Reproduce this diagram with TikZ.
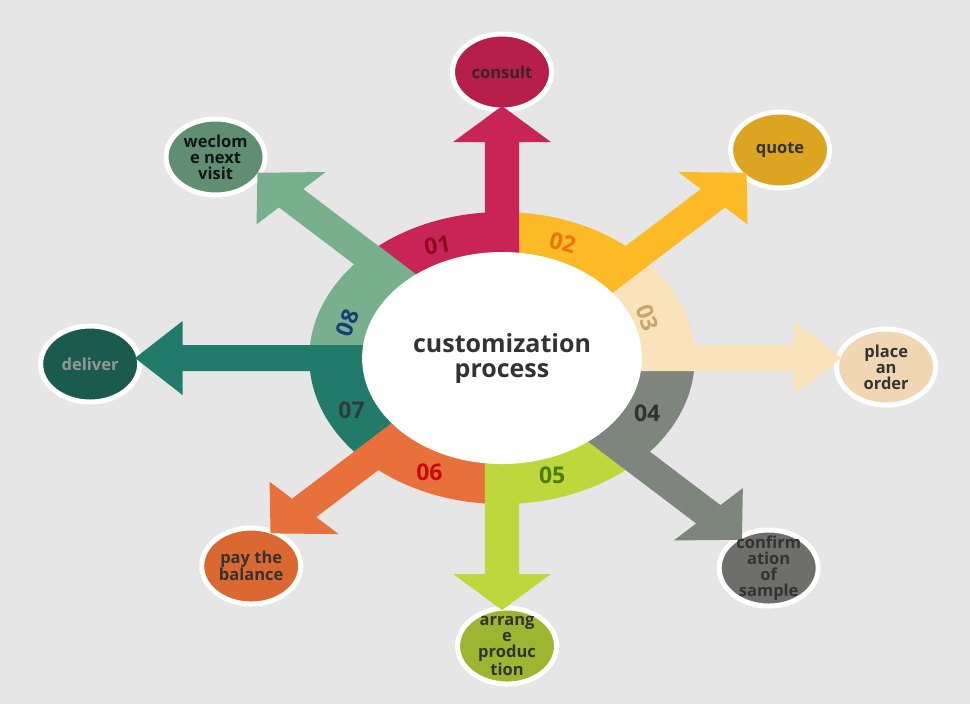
\documentclass[tikz,border=0pt]{standalone}
\usepackage{fontspec}
\setmainfont{Open Sans}
\usetikzlibrary{shapes.geometric}
\definecolor{bg}{RGB}{230,230,230}
\definecolor{txt}{RGB}{51,51,51}
\definecolor{ca}{RGB}{200,36,86}   \definecolor{cca}{RGB}{181,31,74}
\definecolor{cb}{RGB}{251,186,38}  \definecolor{ccb}{RGB}{220,165,33}
\definecolor{cc}{RGB}{250,226,186} \definecolor{ccc}{RGB}{240,214,178}
\definecolor{cd}{RGB}{126,133,125} \definecolor{ccd}{RGB}{110,110,108}
\definecolor{ce}{RGB}{190,215,60}  \definecolor{cce}{RGB}{158,181,50}
\definecolor{cf}{RGB}{232,112,58}  \definecolor{ccf}{RGB}{218,104,48}
\definecolor{cg}{RGB}{33,122,106}  \definecolor{ccg}{RGB}{27,90,78}
\definecolor{ch}{RGB}{120,176,142} \definecolor{cch}{RGB}{95,142,112}
\definecolor{na}{RGB}{140,12,30}
\definecolor{nb}{RGB}{232,118,12}
\definecolor{nc}{RGB}{200,165,110}
\definecolor{nd}{RGB}{50,50,50}
\definecolor{ne}{RGB}{80,125,10}
\definecolor{nf}{RGB}{200,10,10}
\definecolor{ng}{RGB}{45,60,58}
\definecolor{nh}{RGB}{25,60,120}
% block arrow: angle, tip distance, colour
\newcommand{\bkarrow}[3]{%
 \fill[#3] ({13*cos(#1-90)},{13*sin(#1-90)})
  -- ({(#2-36)*cos(#1)+13*cos(#1-90)},{(#2-36)*sin(#1)+13*sin(#1-90)})
  -- ({(#2-36)*cos(#1)+37*cos(#1-90)},{(#2-36)*sin(#1)+37*sin(#1-90)})
  -- ({#2*cos(#1)},{#2*sin(#1)})
  -- ({(#2-36)*cos(#1)+37*cos(#1+90)},{(#2-36)*sin(#1)+37*sin(#1+90)})
  -- ({(#2-36)*cos(#1)+13*cos(#1+90)},{(#2-36)*sin(#1)+13*sin(#1+90)})
  -- ({13*cos(#1+90)},{13*sin(#1+90)}) -- cycle;}
% ring segment: angle of its arrow, colour
\newcommand{\ringseg}[2]{%
 \begin{scope}
 \clip (0,0) circle[radius=146];
 \fill[#2] ({400*cos(#1)+13*cos(#1-90)},{400*sin(#1)+13*sin(#1-90)})
  -- ({13*cos(#1-90)},{13*sin(#1-90)})
  -- ({13*cos(#1-45)},{13*sin(#1-45)})
  -- ({400*cos(#1+45)+13*cos(#1-45)},{400*sin(#1+45)+13*sin(#1-45)}) -- cycle;
 \end{scope}}
\tikzset{
 endc/.style={ellipse, draw=white, line width=5pt, inner sep=0pt, minimum width=99pt, minimum height=76pt},
 lbl/.style={font=\bfseries\fontsize{16.5}{16}\selectfont, align=center, text=txt, inner sep=0pt},
 num/.style={font=\bfseries\fontsize{23}{23}\selectfont, inner sep=0pt},
 ttl/.style={font=\bfseries\fontsize{25}{25}\selectfont, align=center, text=txt}
}
\begin{document}
\begin{tikzpicture}[x=1.32pt,y=1pt]
\useasboundingbox[fill=bg] (-380.3,-346) rectangle (354.5,358);
% end circles
\node[endc, fill=cca] (consult) at (0,286) {};
\node[endc, fill=ccb] (quote) at (210.6,208) {};
\node[endc, fill=ccc] (place) at (291,-9) {};
\node[endc, fill=ccd] (confirm) at (202,-210) {};
\node[endc, fill=cce] (arrange) at (3.8,-288) {};
\node[endc, fill=ccf] (pay) at (-190,-208) {};
\node[endc, fill=ccg] (deliver) at (-312,-6) {};
\node[endc, fill=cch] (welcome) at (-217,201) {};
% ring
\ringseg{90}{ca}
\ringseg{45}{cb}
\ringseg{0}{cc}
\ringseg{-45}{cd}
\ringseg{-90}{ce}
\ringseg{-135}{cf}
\ringseg{180}{cg}
\ringseg{135}{ch}
% arrows
\bkarrow{90}{252}{ca}
\bkarrow{45}{262}{cb}
\bkarrow{0}{257}{cc}
\bkarrow{-45}{257}{cd}
\bkarrow{-90}{252}{ce}
\bkarrow{-135}{248}{cf}
\bkarrow{180}{278}{cg}
\bkarrow{135}{262}{ch}
% centre
\fill[white] (0,0) circle[radius=106];
\node[ttl] (title) at (0,0) {customization\\process};
% numbers
\node[num, text=na, rotate=10] (n1) at (-49,113) {01};
\node[num, text=nb, rotate=-15] (n2) at (46,115) {02};
\node[num, text=nc, rotate=-70] (n3) at (110,40) {03};
\node[num, text=nd] (n4) at (110,-55) {04};
\node[num, text=ne] (n5) at (38,-117) {05};
\node[num, text=nf] (n6) at (-55,-114) {06};
\node[num, text=ng] (n7) at (-114,-52) {07};
\node[num, text=nh, rotate=70] (n8) at (-117,35) {08};
% circle labels
\node[lbl, text={rgb,255:red,60;green,35;blue,40}] at (consult) {consult};
\node[lbl] at (quote) {quote};
\node[lbl] at (place) {place\\an\\order};
\node[lbl] at (confirm) {confirm\\ation\\of\\sample};
\node[lbl] at (arrange) {arrang\\e\\produc\\tion};
\node[lbl] at (pay) {pay the\\balance};
\node[lbl, text={rgb,255:red,150;green,150;blue,150}] at (deliver) {deliver};
\node[lbl, text={rgb,255:red,20;green,20;blue,20}] at (welcome) {weclom\\e next\\visit};
\end{tikzpicture}
\end{document}
